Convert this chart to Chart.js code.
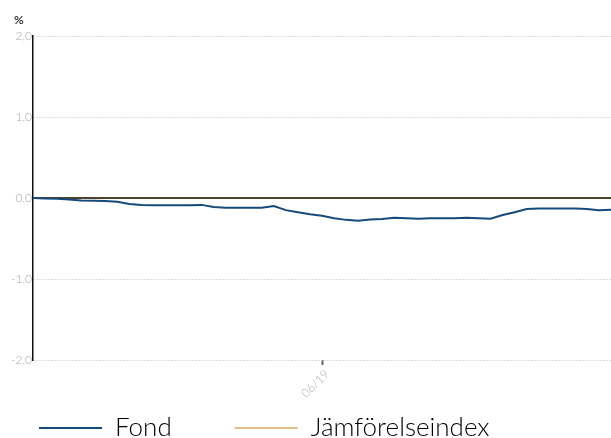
<!DOCTYPE html>
<html>
<head>
<meta charset="utf-8">
<script src="https://cdn.jsdelivr.net/npm/chart.js@4"></script>
<style>
  html, body { margin: 0; padding: 0; background: #ffffff; }
  #wrap { position: relative; width: 611px; height: 438px; }
</style>
</head>
<body>
<div id="wrap"><canvas id="c" width="611" height="438"></canvas></div>
<script>
// ---- data ----
const dates = [
  '2019-01-04','2019-01-11','2019-01-18','2019-01-25','2019-02-01','2019-02-08','2019-02-15',
  '2019-02-22','2019-03-01','2019-03-08','2019-03-15','2019-03-22','2019-03-29','2019-04-05',
  '2019-04-12','2019-04-19','2019-04-26','2019-05-03','2019-05-10','2019-05-17','2019-05-24',
  '2019-05-31','2019-06-07','2019-06-14','2019-06-21','2019-06-28','2019-07-05','2019-07-12',
  '2019-07-19','2019-07-26','2019-08-02','2019-08-09','2019-08-16','2019-08-23','2019-08-30',
  '2019-09-06','2019-09-13','2019-09-20','2019-09-27','2019-10-04','2019-10-11','2019-10-18',
  '2019-10-25','2019-11-01','2019-11-08','2019-11-15','2019-11-22','2019-11-29','2019-12-06'
];
const fondValues = [
  0, -0.005, -0.01, -0.02, -0.03, -0.033, -0.037,
  -0.045, -0.075, -0.085, -0.09, -0.09, -0.09, -0.09,
  -0.085, -0.11, -0.12, -0.12, -0.12, -0.12, -0.1,
  -0.15, -0.175, -0.2, -0.22, -0.25, -0.27, -0.28,
  -0.265, -0.26, -0.245, -0.25, -0.255, -0.25, -0.25,
  -0.25, -0.245, -0.25, -0.255, -0.21, -0.175, -0.135,
  -0.13, -0.13, -0.13, -0.13, -0.135, -0.15, -0.145
];
const indexValues = [
  0, 0, 0, 0, 0, 0, 0,
  0, 0, 0, 0, 0, 0, 0,
  0, 0, 0, 0, 0, 0, 0,
  0, 0, 0, 0, 0, 0, 0,
  0, 0, 0, 0, 0, 0, 0,
  0, 0, 0, 0, 0, 0, 0,
  0, 0, 0, 0, 0, 0, 0
];
const seriesNames = ['Fond', 'Jämförelseindex'];
const xTickDates = ['2019-06-21'];
const yTicks = [-2, -1, 0, 1, 2];
const unitLabel = '%';

// ---- styles ----
const lineColors = ['#164a7a', '#514230'];
const legendColors = ['#164a7a', '#e2be8e'];
const FONT = 'Lato';

function fmtMonth(d) {
  const p = d.split('-');
  return p[1] + '/' + p[0].slice(2);
}

const unitPlugin = {
  id: 'unitLabel',
  afterDraw(chart) {
    const ctx = chart.ctx;
    ctx.save();
    ctx.font = '600 12px ' + FONT;
    ctx.fillStyle = '#222';
    ctx.textBaseline = 'alphabetic';
    ctx.textAlign = 'left';
    ctx.fillText(unitLabel, 14, 24);
    ctx.restore();
  }
};

const legendPlace = {
  id: 'legendPlace',
  beforeDraw(chart) {
    const lg = chart.legend;
    if (!lg) return;
    lg.left = -24;
    lg.top = 352;
    lg.right = 611;
  }
};

new Chart(document.getElementById('c'), {
  type: 'line',
  data: {
    labels: dates,
    datasets: [
      {
        label: seriesNames[1],
        data: indexValues,
        borderColor: lineColors[1],
        backgroundColor: lineColors[1],
        borderWidth: 2,
        pointRadius: 0,
        tension: 0,
        order: 1
      },
      {
        label: seriesNames[0],
        data: fondValues,
        borderColor: lineColors[0],
        backgroundColor: lineColors[0],
        borderWidth: 2,
        pointRadius: 0,
        tension: 0,
        order: 0
      }
    ]
  },
  options: {
    responsive: false,
    animation: false,
    devicePixelRatio: 1,
    layout: { padding: { left: 0, right: 0, top: 36, bottom: 0 } },
    plugins: {
      tooltip: { enabled: false },
      legend: {
        position: 'bottom',
        align: 'start',
        reverse: true,
        maxHeight: 40,
        labels: {
          boxWidth: 63,
          boxHeight: 2,
          padding: 63,
          color: '#222',
          font: { family: FONT, size: 26, weight: '300' },
          generateLabels(chart) {
            return chart.data.datasets.map((ds, i) => {
              const idx = seriesNames.indexOf(ds.label);
              return {
                text: ds.label,
                fillStyle: legendColors[idx],
                strokeStyle: legendColors[idx],
                lineWidth: 0,
                hidden: false,
                datasetIndex: i
              };
            });
          }
        }
      }
    },
    scales: {
      x: {
        type: 'category',
        offset: false,
        border: { display: false },
        grid: {
          drawOnChartArea: false,
          drawTicks: true,
          tickLength: 5,
          tickWidth: 2,
          tickColor: (ctx) => (ctx.tick && ctx.tick.label ? '#666' : 'rgba(0,0,0,0)')
        },
        ticks: {
          autoSkip: false,
          minRotation: 45,
          maxRotation: 45,
          padding: 2,
          labelOffset: 5,
          color: '#b0b0b0',
          font: { family: FONT, size: 12, weight: '300' },
          callback(value, index) {
            const d = dates[index];
            return xTickDates.includes(d) ? fmtMonth(d) : '';
          }
        },
        afterFit(scale) {
          scale.height = 38;
          scale.paddingLeft = 0;
          scale.paddingRight = 0;
        }
      },
      y: {
        min: yTicks[0],
        max: yTicks[yTicks.length - 1],
        border: { display: true, color: '#111', width: 1.5, dash: [1, 2] },
        grid: {
          drawTicks: false,
          color: '#bdbdbd',
          lineWidth: 1
        },
        ticks: {
          stepSize: 1,
          padding: 1,
          color: '#a8a8a8',
          font: { family: FONT, size: 12, weight: '300' },
          callback: (v) => (yTicks.includes(v) ? v.toFixed(1).replace('.', ',') : '')
        },
        afterFit(scale) { scale.width = 33; }
      }
    }
  },
  plugins: [unitPlugin, legendPlace]
});
</script>
</body>
</html>
